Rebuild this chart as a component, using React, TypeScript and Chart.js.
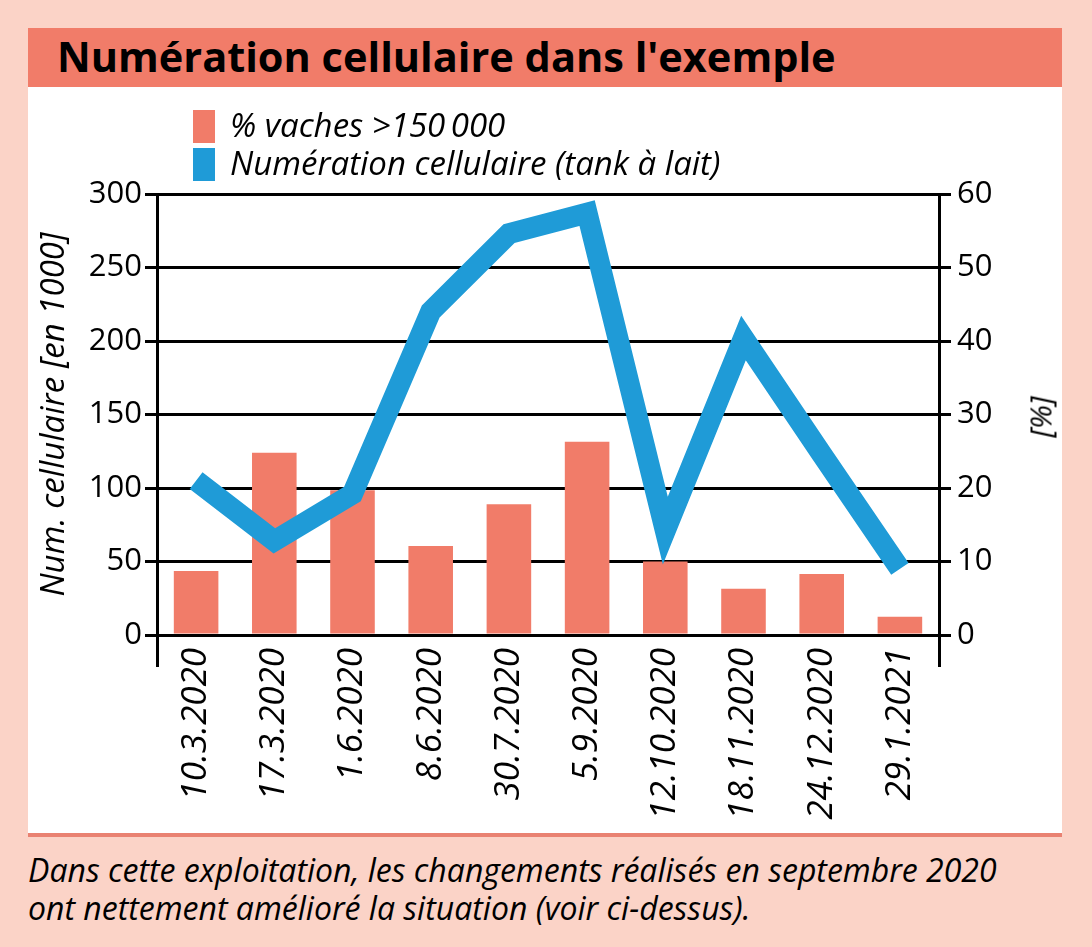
import React, { useEffect, useRef } from "react";
import { Chart, registerables } from "chart.js";

Chart.register(...registerables);

// ---- data ----
const categories = [
  "10.3.2020",
  "17.3.2020",
  "1.6.2020",
  "8.6.2020",
  "30.7.2020",
  "5.9.2020",
  "12.10.2020",
  "18.11.2020",
  "24.12.2020",
  "29.1.2021",
];
// % cows > 150 000 (right axis)
const cowsPercent = [8.7, 24.8, 19.7, 12.1, 17.8, 26.3, 10.0, 6.3, 8.3, 2.5];
// bulk tank cell count [in 1000] (left axis)
const cellCount = [105, 64, 96, 220, 273, 287, 71, 202, 123, 45];

const leftAxis = { min: 0, max: 300, step: 50 };
const rightAxis = { min: 0, max: 60, step: 10 };

const titleText = "Numération cellulaire dans l'exemple";
const legendBars = "% vaches >150\u2009000";
const legendLine = "Numération cellulaire (tank à lait)";
const leftTitle = "Num. cellulaire [en 1000]";
const rightTitle = "[%]";
const captionLines = [
  "Dans cette exploitation, les changements réalisés en septembre 2020",
  "ont nettement amélioré la situation (voir ci-dessus).",
];

// ---- styles ----
const PINK = "#FBD3C7";
const SALMON = "#F17C69";
const BLUE = "#1F9BD7";
const FONT = "'Open Sans', 'Noto Sans', sans-serif";

export default function App() {
  const canvasRef = useRef<HTMLCanvasElement | null>(null);

  useEffect(() => {
    const canvas = canvasRef.current;
    if (!canvas) return;
    const chart = new Chart(canvas, {
      type: "bar",
      data: {
        labels: categories,
        datasets: [
          {
            type: "line",
            label: legendLine,
            data: cellCount,
            yAxisID: "y",
            borderColor: BLUE,
            backgroundColor: BLUE,
            borderWidth: 21,
            pointRadius: 0,
            tension: 0,
            borderJoinStyle: "miter",
            borderCapStyle: "butt",
            order: 0,
          } as any,
          {
            type: "bar",
            label: legendBars,
            data: cowsPercent,
            yAxisID: "y1",
            backgroundColor: SALMON,
            borderWidth: 0,
            categoryPercentage: 1,
            barPercentage: 0.57,
            order: 1,
          },
        ],
      },
      options: {
        responsive: false,
        animation: false,
        layout: { padding: { top: 107, left: 0, right: 0, bottom: 0 } },
        plugins: {
          legend: { display: false },
          tooltip: { enabled: false },
          title: { display: false },
        },
        scales: {
          x: {
            type: "category",
            offset: true,
            afterFit: (s: any) => {
              s.height = 198;
            },
            grid: {
              offset: true,
              drawOnChartArea: false,
              drawTicks: true,
              tickLength: 32,
              lineWidth: 3,
              color: (ctx: any) =>
                ctx.type === "scale" || ctx.index === 0 ? "#000" : "rgba(0,0,0,0)",
            },
            border: { display: true, color: "#000", width: 3 },
            ticks: {
              autoSkip: false,
              maxRotation: 90,
              minRotation: 90,
              padding: -19,
              color: "#000",
              font: { family: FONT, size: 35, style: "italic" },
            },
          },
          y: {
            position: "left",
            min: leftAxis.min,
            max: leftAxis.max,
            afterFit: (s: any) => {
              s.width = 129;
            },
            grid: {
              color: "#000",
              lineWidth: 3,
              drawTicks: true,
              tickLength: 12,
            },
            border: { display: true, color: "#000", width: 3 },
            ticks: {
              stepSize: leftAxis.step,
              padding: 3,
              color: "#000",
              font: { family: FONT, size: 31 },
            },
            title: {
              display: true,
              text: leftTitle,
              color: "#000",
              padding: { top: 7, bottom: 0 },
              font: { family: FONT, size: 33, style: "italic" },
            },
          },
          y1: {
            position: "right",
            min: rightAxis.min,
            max: rightAxis.max,
            afterFit: (s: any) => {
              s.width = 123;
            },
            grid: {
              color: "#000",
              lineWidth: 3,
              drawOnChartArea: false,
              drawTicks: true,
              tickLength: 12,
            },
            border: { display: true, color: "#000", width: 3 },
            ticks: {
              stepSize: rightAxis.step,
              padding: 6,
              color: "#000",
              font: { family: FONT, size: 31 },
            },
          },
        },
      },
    });
    return () => chart.destroy();
  }, []);

  return (
    <div
      style={{
        position: "absolute",
        left: 0,
        top: 0,
        width: 1092,
        height: 947,
        background: PINK,
        fontFamily: FONT,
        overflow: "hidden",
      }}
    >
      {/* white panel */}
      <div
        style={{
          position: "absolute",
          left: 28,
          top: 28,
          width: 1034,
          height: 806,
          background: "#fff",
        }}
      />
      {/* bottom rule */}
      <div
        style={{
          position: "absolute",
          left: 28,
          top: 833,
          width: 1034,
          height: 4,
          background: "#E98272",
        }}
      />
      {/* title bar */}
      <div
        style={{
          position: "absolute",
          left: 28,
          top: 28,
          width: 1034,
          height: 59,
          background: SALMON,
        }}
      />
      <div
        style={{
          position: "absolute",
          left: 57,
          top: 27,
          height: 59,
          lineHeight: "59px",
          fontSize: 41.5,
          fontWeight: 700,
          color: "#000",
          whiteSpace: "nowrap",
        }}
      >
        {titleText}
      </div>
      <canvas
        ref={canvasRef}
        width={1034}
        height={746}
        style={{ position: "absolute", left: 28, top: 87, width: 1034, height: 746 }}
      />
      {/* legend */}
      <div style={{ position: "absolute", left: 193, top: 110, width: 22, height: 33, background: SALMON }} />
      <div style={{ position: "absolute", left: 193, top: 148, width: 22, height: 33, background: BLUE }} />
      <div
        style={{
          position: "absolute",
          left: 230,
          top: 104,
          fontSize: 33,
          lineHeight: "42px",
          fontStyle: "italic",
          color: "#000",
          whiteSpace: "nowrap",
        }}
      >
        {legendBars}
      </div>
      <div
        style={{
          position: "absolute",
          left: 230,
          top: 142,
          fontSize: 33,
          lineHeight: "42px",
          fontStyle: "italic",
          color: "#000",
          whiteSpace: "nowrap",
        }}
      >
        {legendLine}
      </div>
      {/* right axis title */}
      <div
        style={{
          position: "absolute",
          left: 1040,
          top: 417,
          transform: "translate(-50%, -50%) rotate(-90deg)",
          fontSize: 30,
          fontStyle: "italic",
          color: "#000",
          whiteSpace: "nowrap",
        }}
      >
        {rightTitle}
      </div>
      {/* caption */}
      <div
        style={{
          position: "absolute",
          left: 28,
          top: 851,
          fontSize: 32,
          lineHeight: "38px",
          fontStyle: "italic",
          color: "#000",
          whiteSpace: "nowrap",
        }}
      >
        {captionLines.map((l, i) => (
          <div key={i}>{l}</div>
        ))}
      </div>
    </div>
  );
}
